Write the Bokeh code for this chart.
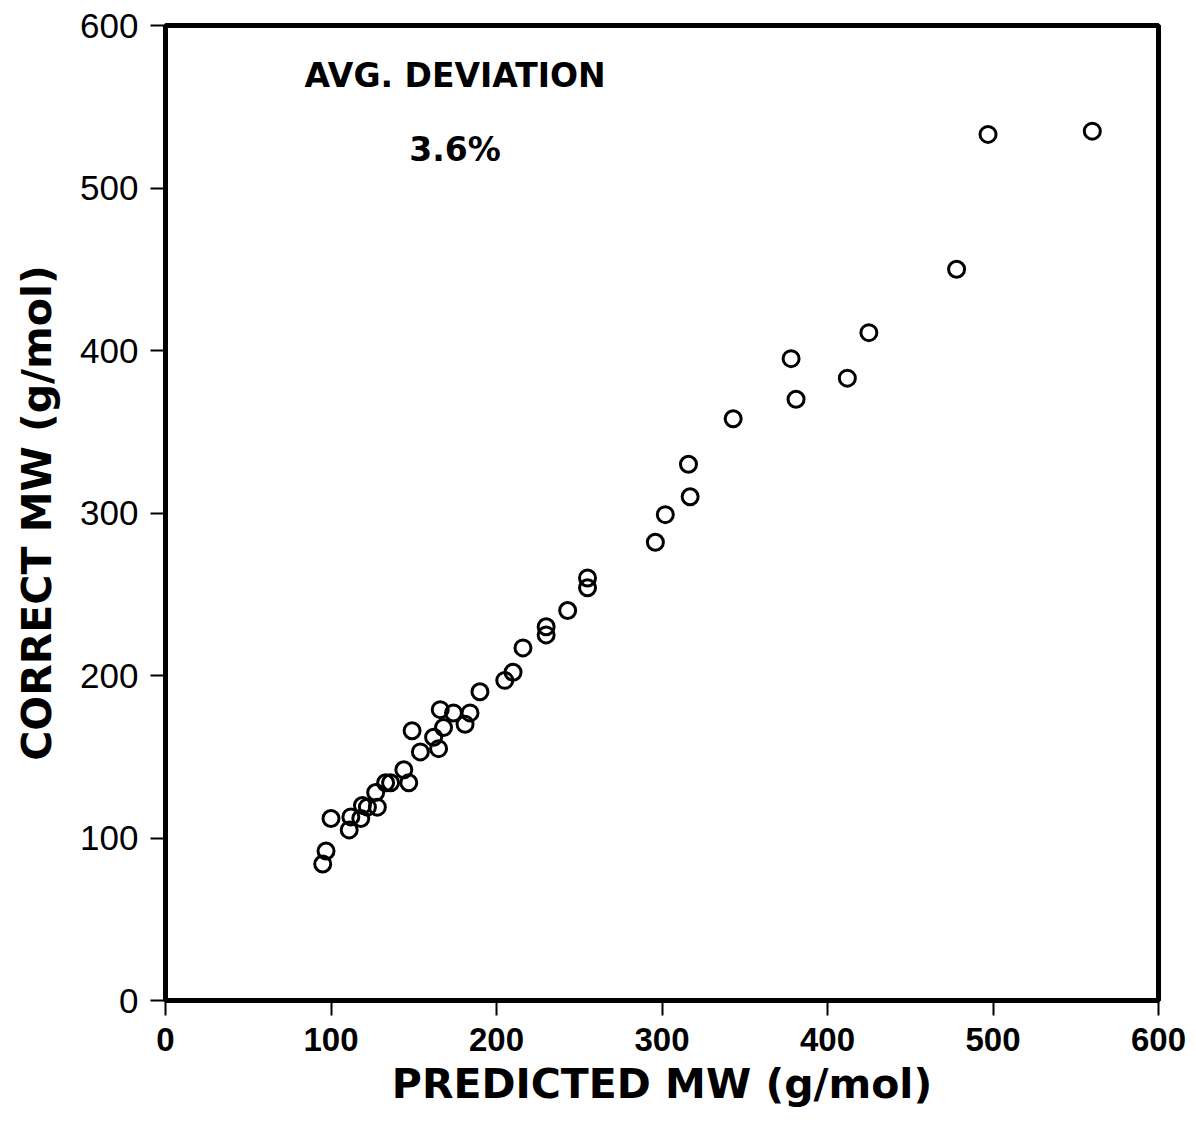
from bokeh.plotting import figure
from bokeh.models import ColumnDataSource, FixedTicker, Range1d, Label
from bokeh.embed import file_html
from bokeh.resources import INLINE

# Data
predicted_mw = [560, 497, 478, 425, 412, 378, 381, 343, 316, 317, 302, 296,
                255, 255, 243, 230, 230, 216, 210, 205, 190, 184, 174, 166,
                181, 168, 162, 165, 149, 154, 144, 147, 136, 133, 127, 128,
                122, 119, 118, 112, 111, 100, 97, 95]
correct_mw = [535, 533, 450, 411, 383, 395, 370, 358, 330, 310, 299, 282,
              260, 254, 240, 230, 225, 217, 202, 197, 190, 177, 177, 179,
              170, 168, 162, 155, 166, 153, 142, 134, 134, 134, 128, 119,
              119, 120, 112, 113, 105, 112, 92, 84]
ticks = [0, 100, 200, 300, 400, 500, 600]
annotation_title = "AVG. DEVIATION"
annotation_value = "3.6%"

src = ColumnDataSource(dict(x=predicted_mw, y=correct_mw))

p = figure(frame_width=993, frame_height=975,
           x_range=Range1d(0, 600), y_range=Range1d(0, 600),
           output_backend="svg", toolbar_location=None,
           min_border_left=165, min_border_top=25,
           min_border_right=30, min_border_bottom=105,
           background_fill_color="white", border_fill_color="white")

p.grid.visible = False
p.outline_line_color = "black"
p.outline_line_width = 5

p.scatter("x", "y", source=src, marker="circle", size=16,
          fill_alpha=0, line_color="black", line_width=3)

for ax in (p.xaxis[0], p.yaxis[0]):
    ax.ticker = FixedTicker(ticks=ticks)
    ax.axis_line_color = "black"
    ax.axis_line_width = 5
    ax.major_tick_line_width = 2
    ax.major_tick_line_color = "black"
    ax.major_tick_out = 15
    ax.major_tick_in = 0
    ax.minor_tick_line_color = None
    ax.major_label_text_color = "black"
    ax.axis_label_text_color = "black"
    ax.axis_label_text_font = "DejaVu Sans"
    ax.axis_label_text_font_style = "bold"
    ax.axis_label_text_font_size = "41px"

p.xaxis.axis_label = "PREDICTED MW (g/mol)"
p.yaxis.axis_label = "CORRECT MW (g/mol)"

p.xaxis.major_label_text_font = "Liberation Sans"
p.xaxis.major_label_text_font_style = "bold"
p.xaxis.major_label_text_font_size = "33px"
p.xaxis.major_label_standoff = 12
p.xaxis.axis_label_standoff = 6

p.yaxis.major_label_text_font = "Liberation Sans"
p.yaxis.major_label_text_font_style = "normal"
p.yaxis.major_label_text_font_size = "35px"
p.yaxis.major_label_standoff = 12
p.yaxis.axis_label_standoff = 16

p.add_layout(Label(x=175, y=569, text=annotation_title,
                   text_align="center", text_baseline="middle",
                   text_font="DejaVu Sans", text_font_style="bold",
                   text_font_size="33px", text_color="black"))
p.add_layout(Label(x=175, y=524, text=annotation_value,
                   text_align="center", text_baseline="middle",
                   text_font="DejaVu Sans", text_font_style="bold",
                   text_font_size="33px", text_color="black"))

open("out.html", "w").write(file_html(p, INLINE))
